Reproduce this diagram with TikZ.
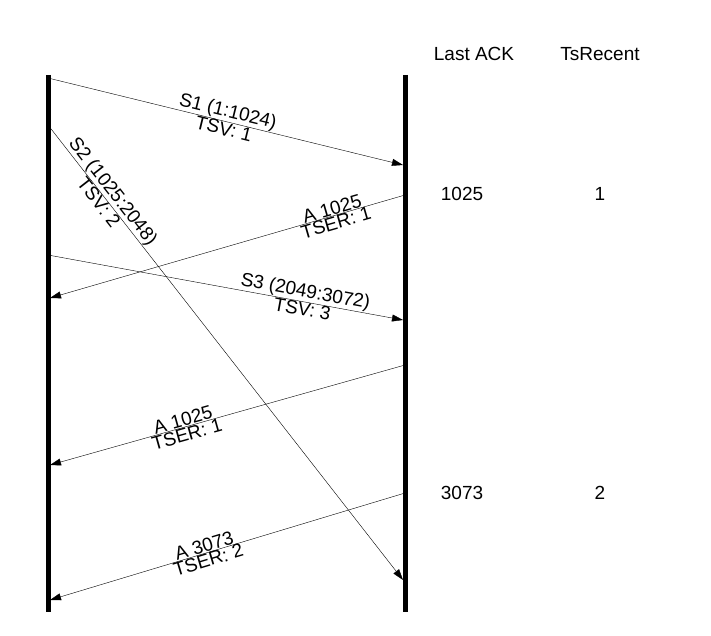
\documentclass[tikz,border=0pt]{standalone}
\usepackage{fontspec}
\setmainfont{Liberation Sans}
\usetikzlibrary{arrows.meta}
\tikzset{
  % time lines of the two hosts
  host/.style={line width=5pt},
  % segments and acks between them
  msg/.style={-{Triangle[length=11pt,width=7pt]},thin},
  lbl/.style={font=\fontsize{19}{21}\selectfont,sloped,inner sep=0.5pt,align=center},
  col/.style={font=\fontsize{19}{21}\selectfont,anchor=base}}
\begin{document}
\begin{tikzpicture}[x=1pt,y=-1pt]
	\useasboundingbox (0,0) rectangle (711,636);
	% the two hosts
	\coordinate (lt) at (48,75);  \coordinate (lb) at (48,612);
	\coordinate (rt) at (405,75); \coordinate (rb) at (405,612);
	\draw[host] (lt) -- (lb);
	\draw[host] (rt) -- (rb);
	% ends of the messages
	\coordinate (s1a) at (48,78);   \coordinate (s1b) at (403,165);
	\coordinate (s2a) at (48,125);  \coordinate (s2b) at (403,580);
	\coordinate (a1a) at (405,195); \coordinate (a1b) at (50,298);
	\coordinate (s3a) at (48,255);  \coordinate (s3b) at (403,320);
	\coordinate (a2a) at (405,365); \coordinate (a2b) at (50,465);
	\coordinate (a3a) at (405,493); \coordinate (a3b) at (50,600);
	% segments
	\draw[msg] (s1a) -- (s1b)
		node[lbl,pos=0.5,above] {S1 (1:1024)} node[lbl,pos=0.5,below] {TSV: 1};
	\draw[msg] (s2a) -- (s2b)
		node[lbl,pos=0.16,above] {S2 (1025:2048)} node[lbl,pos=0.16,below] {TSV: 2};
	\draw[msg] (s3a) -- (s3b)
		node[lbl,pos=0.72,above] {S3 (2049:3072)} node[lbl,pos=0.72,below] {TSV: 3};
	% acks
	\draw[msg] (a1a) -- (a1b)
		node[lbl,pos=0.2,above] {A 1025} node[lbl,pos=0.2,below] {TSER: 1};
	\draw[msg] (a2a) -- (a2b)
		node[lbl,pos=0.62,above] {A 1025} node[lbl,pos=0.62,below] {TSER: 1};
	\draw[msg] (a3a) -- (a3b)
		node[lbl,pos=0.56,above] {A 3073} node[lbl,pos=0.56,below] {TSER: 2};
	% state columns
	\node[col] (hack) at (474,61) {Last ACK};
	\node[col] (hts)  at (600,61) {TsRecent};
	\node[col] (v1a)  at (462,201) {1025};
	\node[col] (v1b)  at (600,201) {1};
	\node[col] (v2a)  at (462,499) {3073};
	\node[col] (v2b)  at (600,499) {2};
\end{tikzpicture}
\end{document}
